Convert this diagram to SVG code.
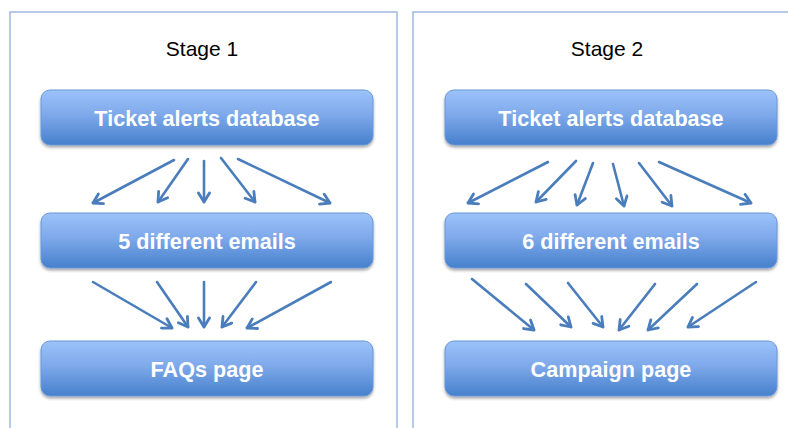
<svg xmlns="http://www.w3.org/2000/svg" width="788" height="428" viewBox="0 0 788 428">
<style>
.frame{fill:#ffffff;stroke:#9fb9df;stroke-width:1.5}
.stage{font-family:"Liberation Sans",Arial,sans-serif;font-size:21px;fill:#000;text-anchor:middle}
.box{fill:url(#g);stroke:#6a98d6;stroke-width:1;filter:url(#sh)}
.lbl{font-family:"Liberation Sans",Arial,sans-serif;font-size:21.6px;font-weight:bold;fill:#fff;text-anchor:middle}
.arr{stroke:#4a7dbb;stroke-width:2.6;fill:none;marker-end:url(#ah);stroke-linecap:round}
</style>
<defs>
<linearGradient id="g" x1="0" y1="0" x2="0" y2="1">
<stop offset="0" stop-color="#9cc2fa"/>
<stop offset="0.45" stop-color="#7ea9ea"/>
<stop offset="1" stop-color="#4680cc"/>
</linearGradient>
<filter id="sh" x="-5%" y="-10%" width="110%" height="130%">
<feGaussianBlur in="SourceAlpha" stdDeviation="1.5"/>
<feOffset dx="0" dy="2" result="b"/>
<feComponentTransfer><feFuncA type="linear" slope="0.35"/></feComponentTransfer>
<feMerge><feMergeNode/><feMergeNode in="SourceGraphic"/></feMerge>
</filter>
<marker id="ah" markerUnits="userSpaceOnUse" markerWidth="14" markerHeight="14" viewBox="0 0 14 14" refX="11" refY="7" orient="auto">
<path d="M2,1.5 L11,7 L2,12.5" fill="none" stroke="#4a7dbb" stroke-width="2.8" stroke-linecap="round" stroke-linejoin="round"/>
</marker>
</defs>
<rect class="frame" x="10" y="12" width="387" height="430"/>
<rect class="frame" x="413" y="12" width="390" height="430"/>
<text class="stage" x="202" y="56">Stage 1</text>
<text class="stage" x="607" y="56">Stage 2</text>
<g id="s1-db"><rect class="box" x="41" y="90" width="332" height="55" rx="9"/><text class="lbl" x="207" y="126">Ticket alerts database</text></g>
<g id="s1-emails"><rect class="box" x="41" y="213" width="332" height="55" rx="9"/><text class="lbl" x="207" y="249">5 different emails</text></g>
<g id="s1-faq"><rect class="box" x="41" y="341" width="332" height="55" rx="9"/><text class="lbl" x="207" y="377">FAQs page</text></g>
<g id="s2-db"><rect class="box" x="445" y="90" width="332" height="55" rx="9"/><text class="lbl" x="611" y="126">Ticket alerts database</text></g>
<g id="s2-emails"><rect class="box" x="445" y="213" width="332" height="55" rx="9"/><text class="lbl" x="611" y="249">6 different emails</text></g>
<g id="s2-campaign"><rect class="box" x="445" y="341" width="332" height="55" rx="9"/><text class="lbl" x="611" y="377">Campaign page</text></g>
<g id="connectors">
<line class="arr" x1="174" y1="160" x2="93" y2="203"/>
<line class="arr" x1="188" y1="159" x2="158" y2="202"/>
<line class="arr" x1="204" y1="161" x2="204" y2="202"/>
<line class="arr" x1="221" y1="158" x2="255" y2="202"/>
<line class="arr" x1="238" y1="159" x2="330" y2="203"/>
<line class="arr" x1="93" y1="282" x2="172" y2="328"/>
<line class="arr" x1="157" y1="282" x2="188" y2="327"/>
<line class="arr" x1="204" y1="282" x2="204" y2="327"/>
<line class="arr" x1="256" y1="282" x2="222" y2="327"/>
<line class="arr" x1="331" y1="282" x2="247" y2="328"/>
<line class="arr" x1="548" y1="162" x2="468" y2="203"/>
<line class="arr" x1="576" y1="161" x2="536" y2="202"/>
<line class="arr" x1="593" y1="163" x2="577" y2="205"/>
<line class="arr" x1="613" y1="164" x2="624" y2="206"/>
<line class="arr" x1="639" y1="163" x2="672" y2="206"/>
<line class="arr" x1="659" y1="162" x2="751" y2="203"/>
<line class="arr" x1="472" y1="279" x2="534" y2="330"/>
<line class="arr" x1="526" y1="284" x2="571" y2="327"/>
<line class="arr" x1="568" y1="283" x2="603" y2="327"/>
<line class="arr" x1="655" y1="284" x2="619" y2="330"/>
<line class="arr" x1="697" y1="284" x2="648" y2="330"/>
<line class="arr" x1="756" y1="282" x2="688" y2="327"/>
</g>
</svg>
